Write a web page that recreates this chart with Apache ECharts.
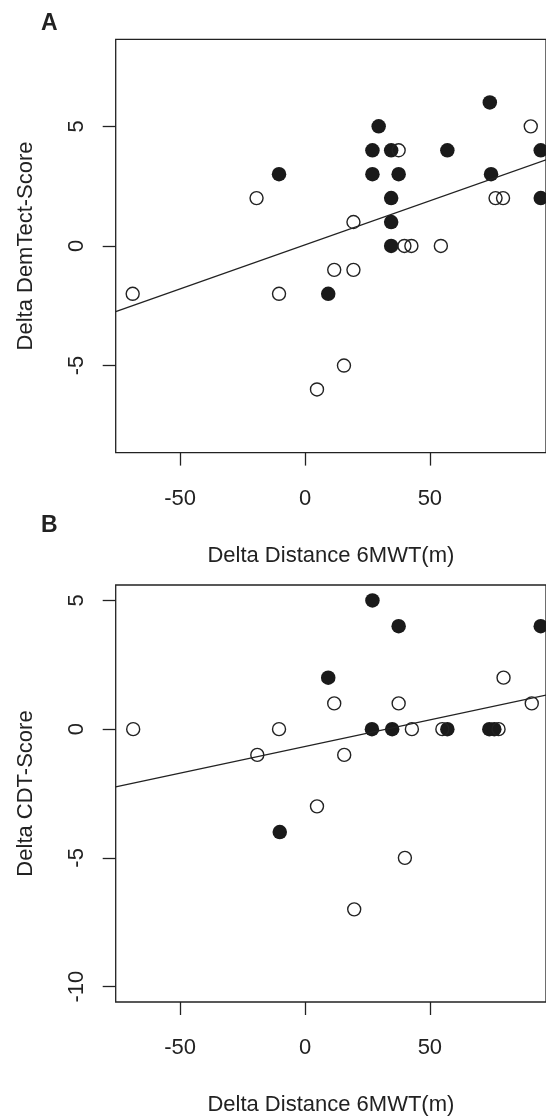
<!DOCTYPE html>
<html>
<head>
<meta charset="utf-8">
<script src="https://cdn.jsdelivr.net/npm/echarts@6/dist/echarts.min.js"></script>
<style>
html,body{margin:0;padding:0;background:#fff;}
#chart{width:546px;height:1117px;}
</style>
</head>
<body>
<div id="chart"></div>
<script>
// Panel A: Delta DemTect-Score vs Delta Distance 6MWT(m)
var xAFilled = [74, 29.5, 27, 34.5, 57, 94.4, -10.4, 27, 37.5, 74.5, 34.5, 94.4, 34.5, 34.5, 9.3];
var yAFilled = [6, 5, 4, 4, 4, 4, 3, 3, 3, 3, 2, 2, 1, 0, -2];
var xAOpen = [90.4, 37.5, -19.4, 76.3, 79.3, 19.4, 39.8, 42.6, 54.4, 11.7, 19.4, -69, -10.4, 15.6, 4.8];
var yAOpen = [5, 4, 2, 2, 2, 1, 0, 0, 0, -1, -1, -2, -2, -5, -6];
var lineA = [[-75.8, -2.75], [96.5, 3.6]];

// Panel B: Delta CDT-Score vs Delta Distance 6MWT(m)
var xBFilled = [27, 37.5, 94.4, 9.3, 26.8, 34.9, 57, 73.8, 75.8, -10.1];
var yBFilled = [5, 4, 4, 2, 0, 0, 0, 0, 0, -4];
var xBOpen = [79.5, 11.7, 37.5, 90.8, -68.8, -10.4, 42.8, 55, 77.5, -19.1, 15.7, 4.8, 40, 19.7];
var yBOpen = [2, 1, 1, 1, 0, 0, 0, 0, 0, -1, -1, -3, -5, -7];
var lineB = [[-75.8, -2.24], [96.5, 1.32]];

var xTicks = [-50, 0, 50];
var yTicksA = [-5, 0, 5];
var yTicksB = [-10, -5, 0, 5];

function zip(xs, ys) { return xs.map(function (x, i) { return [x, ys[i]]; }); }

var INK = '#222';
var FONT = '"Liberation Sans", Arial, Helvetica, sans-serif';

function xAxisCfg(gridIndex) {
  return {
    type: 'value', gridIndex: gridIndex, min: -75.8, max: 96.5, position: 'bottom',
    axisLine: { show: false, onZero: false },
    axisTick: { show: true, inside: false, length: 13, customValues: xTicks, lineStyle: { color: INK, width: 1.3 } },
    axisLabel: { customValues: xTicks, fontSize: 22, color: INK, fontFamily: FONT, margin: 35 },
    splitLine: { show: false },
    name: 'Delta Distance 6MWT(m)', nameLocation: 'middle', nameGap: 92,
    nameTextStyle: { fontSize: 22, color: INK, fontFamily: FONT }
  };
}
function yAxisCfg(gridIndex, min, max, ticks, name) {
  return {
    type: 'value', gridIndex: gridIndex, min: min, max: max, position: 'left',
    axisLine: { show: false, onZero: false },
    axisTick: { show: true, inside: false, length: 13, customValues: ticks, lineStyle: { color: INK, width: 1.3 } },
    axisLabel: { customValues: ticks, fontSize: 22, color: INK, fontFamily: FONT, rotate: 90, margin: 28 },
    splitLine: { show: false },
    name: name, nameLocation: 'middle', nameGap: 79, nameRotate: 90,
    nameTextStyle: { fontSize: 22, color: INK, fontFamily: FONT }
  };
}
function openSeries(idx, data) {
  return { type: 'scatter', xAxisIndex: idx, yAxisIndex: idx, data: data, symbol: 'circle', symbolSize: 13,
    itemStyle: { color: 'rgba(0,0,0,0)', borderColor: INK, borderWidth: 1.4, opacity: 1 }, silent: true, z: 3 };
}
function filledSeries(idx, data) {
  return { type: 'scatter', xAxisIndex: idx, yAxisIndex: idx, data: data, symbol: 'circle', symbolSize: 14.5,
    itemStyle: { color: '#1a1a1a', opacity: 1 }, silent: true, z: 2 };
}
function lineSeries(idx, data) {
  return { type: 'line', xAxisIndex: idx, yAxisIndex: idx, data: data, symbol: 'none', silent: true,
    lineStyle: { color: INK, width: 1.3 }, clip: true, z: 4 };
}

var chart = echarts.init(document.getElementById('chart'), null, { renderer: 'canvas' });
chart.setOption({
  animation: false,
  backgroundColor: '#fff',
  grid: [
    { left: 115.7, top: 39.3, width: 433.8, height: 413.3, show: true, borderColor: INK, borderWidth: 1.3, backgroundColor: 'transparent' },
    { left: 115.7, top: 585, width: 433.8, height: 421.7, show: true, borderColor: INK, borderWidth: 1.3, backgroundColor: 'transparent' }
  ],
  xAxis: [xAxisCfg(0), xAxisCfg(1)],
  yAxis: [
    yAxisCfg(0, -8.64, 8.64, yTicksA, 'Delta DemTect-Score'),
    yAxisCfg(1, -10.6, 5.6, yTicksB, 'Delta CDT-Score')
  ],
  graphic: [
    { type: 'text', left: 41, top: 12, style: { text: 'A', fontSize: 23, fontWeight: 'bold', fill: INK, fontFamily: FONT } },
    { type: 'text', left: 41, top: 514, style: { text: 'B', fontSize: 23, fontWeight: 'bold', fill: INK, fontFamily: FONT } }
  ],
  series: [
    filledSeries(0, zip(xAFilled, yAFilled)),
    openSeries(0, zip(xAOpen, yAOpen)),
    lineSeries(0, lineA),
    filledSeries(1, zip(xBFilled, yBFilled)),
    openSeries(1, zip(xBOpen, yBOpen)),
    lineSeries(1, lineB)
  ]
});
</script>
</body>
</html>
